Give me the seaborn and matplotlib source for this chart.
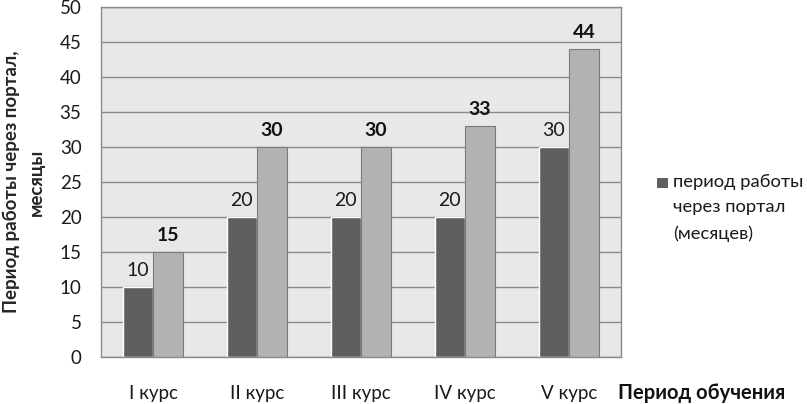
import pandas as pd
import matplotlib
matplotlib.use('Agg')
import matplotlib.pyplot as plt
from matplotlib.patches import Rectangle
import seaborn as sns

# data
courses = ['I курс', 'II курс', 'III курс', 'IV курс', 'V курс']
portal_months = [10, 20, 20, 20, 30]
study_months = [15, 30, 30, 33, 44]
series_names = ['период работы\nчерез портал\n(месяцев)', 'период обучения']

dark = '#5f5f5f'
light = '#b2b2b2'
plot_bg = '#e8e8e8'
grid_c = '#8a8a8a'

df = pd.DataFrame({
    'course': courses * 2,
    'months': portal_months + study_months,
    'series': [series_names[0]] * 5 + [series_names[1]] * 5,
})

sns.set_style('white')
plt.rcParams['font.family'] = ['Lato', 'Open Sans', 'DejaVu Sans']

W, H = 807, 404
fig = plt.figure(figsize=(W / 100, H / 100), dpi=100)
ax = fig.add_axes([101 / W, 1 - 357 / H, 520 / W, 350 / H])
ax.set_facecolor(plot_bg)

sns.barplot(data=df, x='course', y='months', hue='series', order=courses,
            hue_order=series_names, palette=[dark, light], width=0.58,
            gap=0, saturation=1, legend=False, ax=ax)

for bar in ax.containers[1]:
    bar.set_edgecolor('#7a7a7a')
    bar.set_linewidth(0.8)

ax.bar_label(ax.containers[0], labels=[str(v) for v in portal_months],
             padding=6, fontsize=14, color='#1a1a1a')
ax.bar_label(ax.containers[1], labels=[str(v) for v in study_months],
             padding=6, fontsize=14, fontweight='bold', color='#111111')

ax.set_ylim(0, 50)
ax.set_xlim(-0.5, 4.5)
ax.set_yticks(range(0, 51, 5))
ax.yaxis.grid(True, color=grid_c, linewidth=1)
ax.set_axisbelow(True)
for s in ax.spines.values():
    s.set_color(grid_c)
    s.set_linewidth(1)
ax.tick_params(axis='y', length=0, pad=14, labelsize=13.5, colors='#1a1a1a')
ax.tick_params(axis='x', length=0, pad=20, labelsize=13.5, colors='#1a1a1a')
ax.set_xlabel('')
ax.set_ylabel('Период работы через портал,\nмесяцы', fontsize=13.5, fontweight='bold',
              linespacing=1.55, va='center')
ax.yaxis.set_label_coords(-77 / 520, 0.5)

# legend (only the first series is shown)
fig.patches.append(Rectangle((657 / W, 1 - 188 / H), 11 / W, 10 / H,
                             transform=fig.transFigure, facecolor=dark,
                             edgecolor='none'))
fig.text(673 / W, 1 - 174 / H, series_names[0], ha='left', va='top',
         fontsize=13.2, linespacing=1.72, color='#1a1a1a')

fig.text(618 / W, 1 - 393 / H, 'Период обучения', ha='left', va='center',
         fontsize=14.5, fontweight='bold', color='#111111')

fig.savefig('out.png', dpi=100, facecolor='white')
